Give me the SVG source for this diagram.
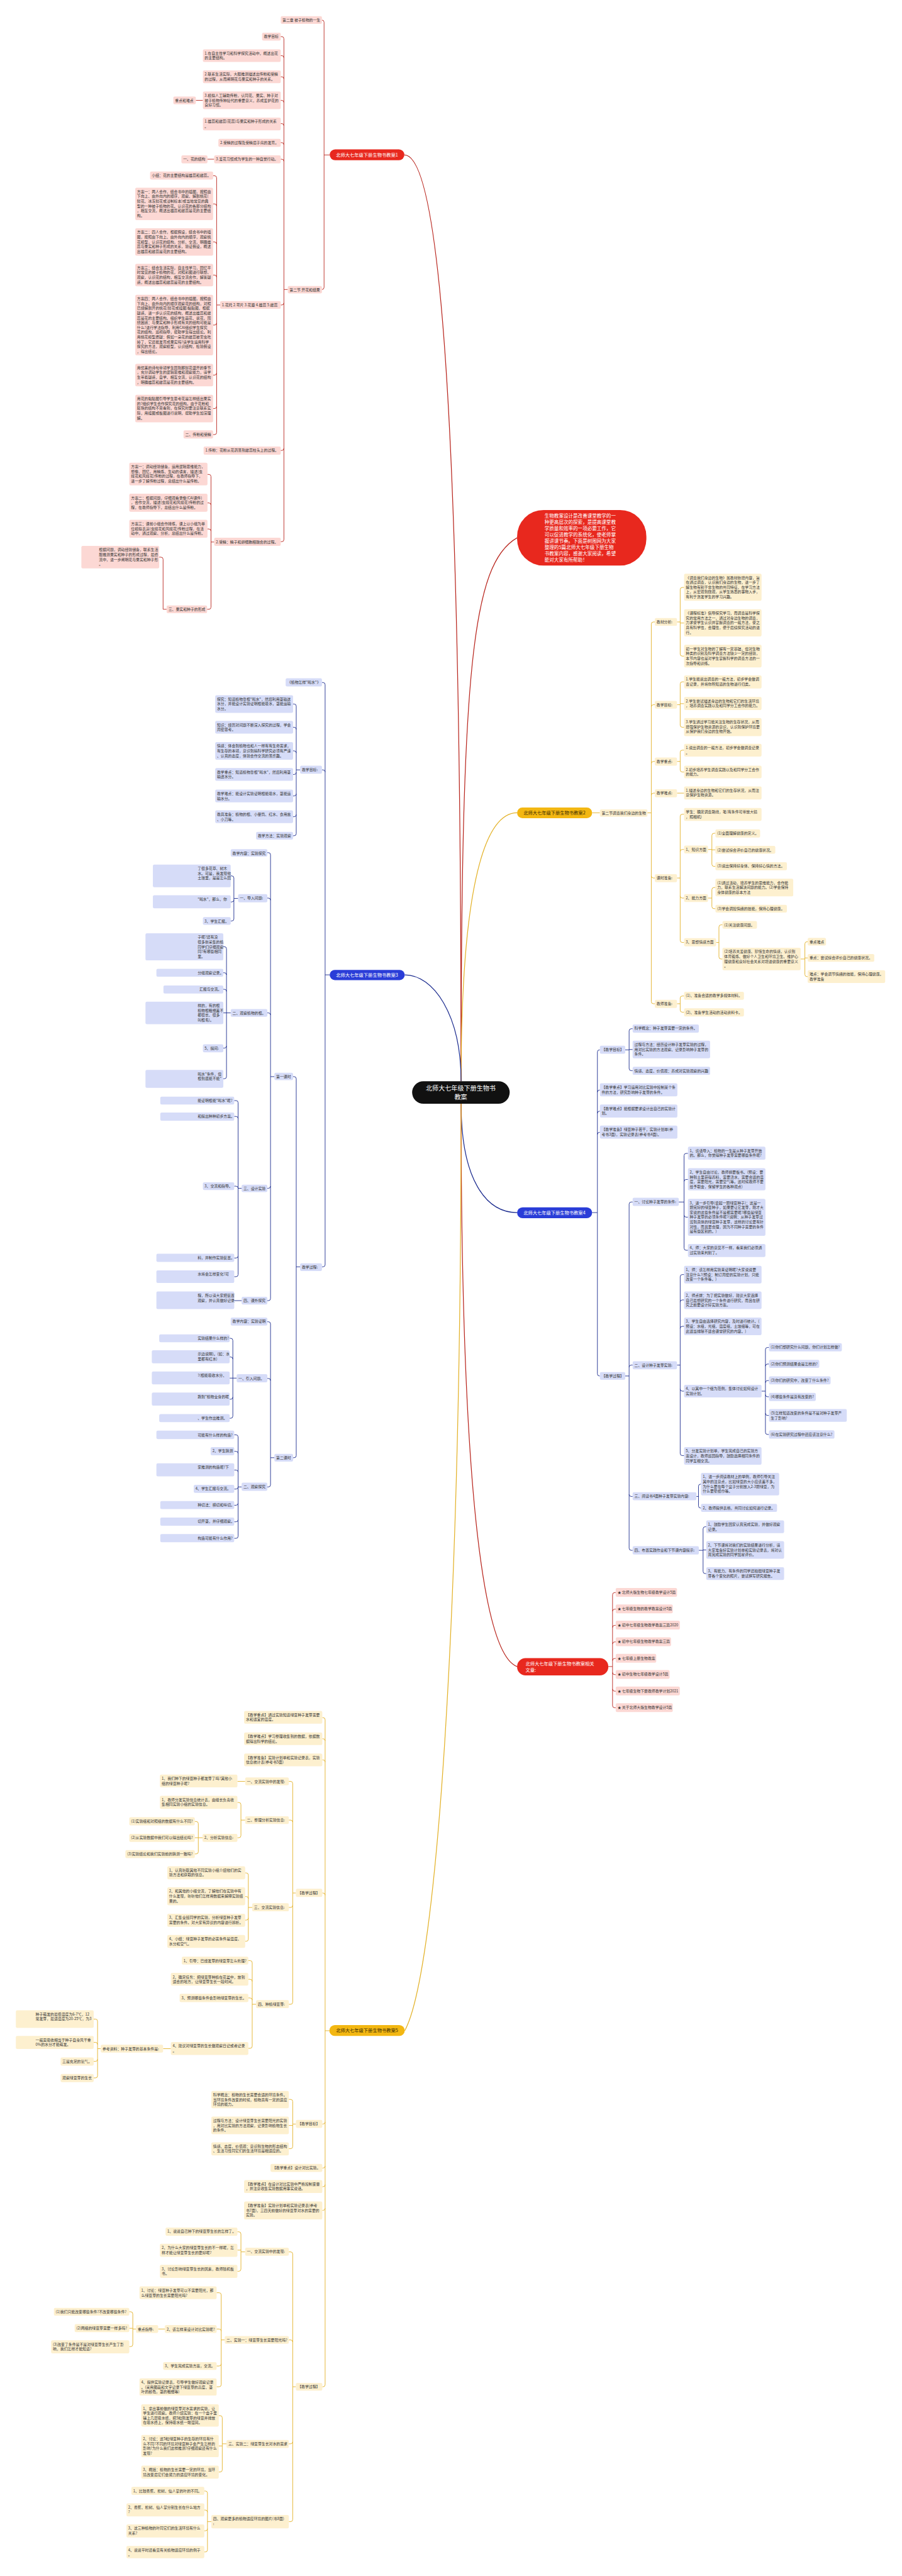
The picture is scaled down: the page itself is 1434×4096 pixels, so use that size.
<svg xmlns="http://www.w3.org/2000/svg" width="1434" height="4096" viewBox="0 0 1434 4096">
<style>
.t{font-family:"Noto Sans CJK SC","Noto Sans",sans-serif;font-size:10.5px;fill:#333}
.m{font-family:"Noto Sans CJK SC","Noto Sans",sans-serif;font-size:13px;text-anchor:middle}
.w{fill:#fff}
.rb{fill:#fcd8d4;rx:4px}
.yb{fill:#fdf0cf;rx:4px}
.bb{fill:#d6dcf8;rx:4px}
.lr{fill:none;stroke:#b8241c;stroke-width:1.6}
.ly{fill:none;stroke:#e3b126;stroke-width:1.6}
.lb{fill:none;stroke:#1a2a8e;stroke-width:1.6}
.mc{stroke-width:2.2}
</style>
<rect width="1434" height="4096" fill="#fff"/>
<g transform="scale(0.56)">
<g id="connectors">
<path class="lr mc" d="M1309 3070C1309 1200 1250 440 1148 440"/>
<path class="lr mc" d="M1309 3070C1309 1900 1340 1600 1468 1527"/>
<path class="ly mc" d="M1309 3070C1309 2500 1380 2308 1468 2308"/>
<path class="lb mc" d="M1149 2768C1230 2768 1309 2880 1309 3070"/>
<path class="lb mc" d="M1309 3134C1309 3350 1380 3443 1468 3443"/>
<path class="lr mc" d="M1309 3134C1309 4300 1380 4700 1468 4732"/>
<path class="ly mc" d="M1309 3134C1309 4600 1240 5600 1149 5766"/>
<path class="lr" d="M936 440H920M920 63V816M920 63Q920 57 914 57M920 816Q920 822 914 822"/>
<path class="lr" d="M817 822H806M806 110V1532M806 110Q806 104 800 104H797M806 164Q806 158 800 158H797M806 224Q806 218 800 218H797M806 291Q806 285 800 285H797M806 357Q806 351 800 351H797M806 411Q806 405 800 405H797M806 458Q806 452 800 452H797M806 860Q806 866 800 866H797M806 1273Q806 1279 800 1279H797M806 1532Q806 1538 800 1538H797"/>
<path class="lr" d="M576 285H556M608 452H589"/>
<path class="lr" d="M625 866H615M615 505V1228M615 505Q615 499 609 499H605M615 585Q615 579 609 579H605M615 693Q615 687 609 687H605M615 787Q615 781 609 781H605M615 917Q615 923 609 923H605M615 1059Q615 1065 609 1065H605M615 1154Q615 1160 609 1160H605M615 1228Q615 1234 609 1234H605"/>
<path class="lr" d="M608 1539H599M599 1353V1724M599 1353Q599 1347 593 1347H589M599 1434Q599 1428 593 1428H589M599 1508Q599 1502 593 1502H589M599 1724Q599 1730 593 1730H588"/>
<path class="lr" d="M473 1730H463M463 1588V1730M463 1588Q463 1582 457 1582H452"/>
<path class="ly" d="M1681 2308H1703"/>
<path class="ly" d="M1838 2308H1849M1849 1772V2844M1849 1772Q1849 1766 1855 1766H1859M1849 2007Q1849 2001 1855 2001H1859M1849 2168Q1849 2162 1855 2162H1859M1849 2258Q1849 2252 1855 2252H1859M1849 2487Q1849 2493 1855 2493H1859M1849 2844Q1849 2850 1855 2850H1859"/>
<path class="ly" d="M1922 1766H1931M1931 1674V1857M1931 1674Q1931 1668 1937 1668H1942M1931 1769H1942M1931 1857Q1931 1863 1937 1863H1942"/>
<path class="ly" d="M1922 2001H1931M1931 1942V2059M1931 1942Q1931 1936 1937 1936H1942M1931 1998H1942M1931 2059Q1931 2065 1937 2065H1942"/>
<path class="ly" d="M1922 2162H1931M1931 2136V2186M1931 2136Q1931 2130 1937 2130H1942M1931 2186Q1931 2192 1937 2192H1942"/>
<path class="ly" d="M1922 2252H1942"/>
<path class="ly" d="M1922 2493H1931M1931 2318V2670M1931 2318Q1931 2312 1937 2312H1942M1931 2418Q1931 2412 1937 2412H1942M1931 2544Q1931 2550 1937 2550H1942M1931 2670Q1931 2676 1937 2676H1942"/>
<path class="ly" d="M2010 2412H2021M2021 2372V2454M2021 2372Q2021 2366 2027 2366H2031M2021 2413H2031M2021 2454Q2021 2460 2027 2460H2031"/>
<path class="ly" d="M2010 2550H2021M2021 2526V2574M2021 2526Q2021 2520 2027 2520H2031M2021 2574Q2021 2580 2027 2580H2031"/>
<path class="ly" d="M2033 2676H2041M2041 2632V2717M2041 2632Q2041 2626 2047 2626H2051M2041 2717Q2041 2723 2047 2723H2051"/>
<path class="ly" d="M2273 2723H2285M2285 2680V2767M2285 2680Q2285 2674 2291 2674H2293M2285 2720H2293M2285 2767Q2285 2773 2291 2773H2293"/>
<path class="ly" d="M1922 2850H1931M1931 2834V2868M1931 2834Q1931 2828 1937 2828H1942M1931 2868Q1931 2874 1937 2874H1942"/>
<path class="lb" d="M936 2768H923M923 1944V3591M923 1944Q923 1938 917 1938H914M923 2192Q923 2186 917 2186H914M923 3591Q923 3597 917 3597H914"/>
<path class="lb" d="M852 2186H841M841 2005V2367M841 2005Q841 1999 835 1999H832M841 2071Q841 2065 835 2065H832M841 2138Q841 2132 835 2132H832M841 2193Q841 2199 835 2199H832M841 2254Q841 2260 835 2260H832M841 2313Q841 2319 835 2319H832M841 2367Q841 2373 835 2373H832"/>
<path class="lb" d="M852 3597H841M841 3063V4133M841 3063Q841 3057 835 3057H832M841 4133Q841 4139 835 4139H832"/>
<path class="lb" d="M779 3057H768M768 2427V3687M768 2427Q768 2421 762 2421H759M768 2556Q768 2550 762 2550H759M768 2882Q768 2876 762 2876H759M768 3368Q768 3374 762 3374H759M768 3687Q768 3693 762 3693H759"/>
<path class="lb" d="M779 4139H768M768 3759V4216M768 3759Q768 3753 762 3753H759M768 3920Q768 3914 762 3914H759M768 4216Q768 4222 762 4222H759"/>
<path class="lb" d="M676 2551H664M664 2493V2609M664 2493Q664 2487 658 2487H655M664 2555Q664 2561 658 2561H655M664 2609Q664 2615 658 2615H655"/>
<path class="lb" d="M655 2876H643M643 2694V3057M643 2694Q643 2688 637 2688H634M643 2768Q643 2762 637 2762H634M643 2815Q643 2809 637 2809H634M643 2876H634M643 2970Q643 2976 637 2976H634M643 3057Q643 3063 637 3063H634"/>
<path class="lb" d="M686 3374H676M676 3131V3619M676 3131Q676 3125 670 3125H665M676 3176Q676 3170 670 3170H665M676 3374Q676 3368 670 3368H665M676 3566Q676 3572 670 3572H665M676 3619Q676 3625 670 3625H665"/>
<path class="lb" d="M686 3693H665"/>
<path class="lb" d="M672 3913H661M661 3806V4021M661 3806Q661 3800 655 3800H652M661 3859Q661 3853 655 3853H652M661 3913H652M661 3967Q661 3973 655 3973H652M661 4021Q661 4027 655 4027H652"/>
<path class="lb" d="M686 4222H676M676 4080V4362M676 4080Q676 4074 670 4074H665M676 4127Q676 4121 670 4121H665M676 4180Q676 4174 670 4174H665M676 4222Q676 4228 670 4228H665M676 4268Q676 4274 670 4274H665M676 4315Q676 4321 670 4321H665M676 4362Q676 4368 670 4368H665"/>
<path class="lb" d="M1681 3443H1696M1696 2987V3901M1696 2987Q1696 2981 1702 2981H1703M1696 3101Q1696 3095 1702 3095H1703M1696 3161Q1696 3155 1702 3155H1703M1696 3221Q1696 3215 1702 3215H1703M1696 3901Q1696 3907 1702 3907H1703"/>
<path class="lb" d="M1775 2981H1786M1786 2927V3034M1786 2927Q1786 2921 1792 2921H1796M1786 2980H1796M1786 3034Q1786 3040 1792 3040H1796"/>
<path class="lb" d="M1775 3907H1786M1786 3419V4396M1786 3419Q1786 3413 1792 3413H1796M1786 3882Q1786 3876 1792 3876H1796M1786 4243Q1786 4249 1792 4249H1796M1786 4396Q1786 4402 1792 4402H1796"/>
<path class="lb" d="M1927 3413H1942M1942 3281V3544M1942 3281Q1942 3275 1948 3275H1953M1942 3355Q1942 3349 1948 3349H1953M1942 3450Q1942 3456 1948 3456H1953M1942 3544Q1942 3550 1948 3550H1953"/>
<path class="lb" d="M1922 3876H1931M1931 3625V4127M1931 3625Q1931 3619 1937 3619H1942M1931 3697Q1931 3691 1937 3691H1942M1931 3772Q1931 3766 1937 3766H1942M1931 3944Q1931 3950 1937 3950H1942M1931 4127Q1931 4133 1937 4133H1942"/>
<path class="lb" d="M2162 3950H2173M2173 3832V4067M2173 3832Q2173 3826 2179 3826H2183M2173 3879Q2173 3873 2179 3873H2183M2173 3926Q2173 3920 2179 3920H2183M2173 3960Q2173 3966 2179 3966H2183M2173 4013Q2173 4019 2179 4019H2183M2173 4067Q2173 4073 2179 4073H2183"/>
<path class="lb" d="M1977 4249H1983M1983 4220V4276M1983 4220Q1983 4214 1989 4214H1990M1983 4276Q1983 4282 1989 4282H1990"/>
<path class="lb" d="M1984 4402H1996M1996 4341V4462M1996 4341Q1996 4335 2002 4335H2005M1996 4401H2005M1996 4462Q1996 4468 2002 4468H2005"/>
<path class="lr" d="M1727 4732H1739M1739 4528V4843M1739 4528Q1739 4522 1745 4522H1748M1739 4575Q1739 4569 1745 4569H1748M1739 4621Q1739 4615 1745 4615H1748M1739 4668Q1739 4662 1745 4662H1748M1739 4715Q1739 4709 1745 4709H1748M1739 4749Q1739 4755 1745 4755H1748M1739 4796Q1739 4802 1745 4802H1748M1739 4843Q1739 4849 1745 4849H1748"/>
<path class="ly" d="M935 5766H923M923 4883V6771M923 4883Q923 4877 917 4877H915M923 4943Q923 4937 917 4937H915M923 5003Q923 4997 917 4997H915M923 5381Q923 5375 917 5375H915M923 6025Q923 6031 917 6031H915M923 6150Q923 6156 917 6156H915M923 6203Q923 6209 917 6209H915M923 6270Q923 6276 917 6276H915M923 6771Q923 6777 917 6777H915"/>
<path class="ly" d="M840 5375H831M831 5064V5685M831 5064Q831 5058 825 5058H820M831 5174Q831 5168 825 5168H820M831 5410Q831 5416 825 5416H820M831 5685Q831 5691 825 5691H820"/>
<path class="ly" d="M696 5058H674"/>
<path class="ly" d="M696 5168H684M684 5124V5212M684 5124Q684 5118 678 5118H674M684 5212Q684 5218 678 5218H674"/>
<path class="ly" d="M575 5218H563M563 5178V5258M563 5178Q563 5172 557 5172H553M563 5218H553M563 5258Q563 5264 557 5264H553"/>
<path class="ly" d="M716 5416H705M705 5324V5506M705 5324Q705 5318 699 5318H696M705 5391Q705 5385 699 5385H696M705 5446Q705 5452 699 5452H696M705 5506Q705 5512 699 5512H696"/>
<path class="ly" d="M727 5691H716M716 5573V5810M716 5573Q716 5567 710 5567H705M716 5626Q716 5620 710 5620H705M716 5679Q716 5673 710 5673H705M716 5810Q716 5816 710 5816H705"/>
<path class="ly" d="M485 5817H463"/>
<path class="ly" d="M286 5817H277M277 5739V5894M277 5739Q277 5733 271 5733H266M277 5805Q277 5799 271 5799H266M277 5847Q277 5853 271 5853H266M277 5894Q277 5900 271 5900H266"/>
<path class="ly" d="M840 6031H831M831 5967V6095M831 5967Q831 5961 825 5961H820M831 6035H820M831 6095Q831 6101 825 6101H820"/>
<path class="ly" d="M840 6777H831M831 6400V7154M831 6400Q831 6394 825 6394H820M831 6650Q831 6644 825 6644H820M831 6933Q831 6939 825 6939H820M831 7154Q831 7160 825 7160H820"/>
<path class="ly" d="M696 6394H684M684 6343V6443M684 6343Q684 6337 678 6337H674M684 6389H674M684 6443Q684 6449 678 6449H674"/>
<path class="ly" d="M638 6644H628M628 6516V6771M628 6516Q628 6510 622 6510H615M628 6619Q628 6613 622 6613H615M628 6712Q628 6718 622 6718H615M628 6771Q628 6777 622 6777H615"/>
<path class="ly" d="M468 6613H449"/>
<path class="ly" d="M386 6613H377M377 6570V6657M377 6570Q377 6564 371 6564H367M377 6611H367M377 6657Q377 6663 371 6663H367"/>
<path class="ly" d="M643 6939H631M631 6865V7013M631 6865Q631 6859 625 6859H621M631 6945H621M631 7013Q631 7019 625 7019H621"/>
<path class="ly" d="M600 7160H589M589 7079V7240M589 7079Q589 7073 583 7073H580M589 7133Q589 7127 583 7127H580M589 7180Q589 7186 583 7186H580M589 7240Q589 7246 583 7246H580"/>
</g>
<g id="center"><rect x="1170" y="3070" width="277" height="64" rx="32" fill="#111"/><text class="m w" style="font-size:18px" x="1308" y="3097">北师大七年级下册生物书<tspan x="1308" dy="25">教案</tspan></text></g>
<g id="cloud"><rect x="1468" y="1448" width="367" height="158" rx="75" fill="#e8281e"/><text class="t w" style="font-size:13.5px" x="1546" y="1469">生物教案设计是改善课堂教学的一<tspan x="1546" dy="17.9">种更高层次的探索，是提高课堂教</tspan><tspan x="1546" dy="17.9">学质量和效率的一项必要工作，它</tspan><tspan x="1546" dy="17.9">可以促进教学的系统化，使老师掌</tspan><tspan x="1546" dy="17.9">握讲课节奏。下面是树图网为大家</tspan><tspan x="1546" dy="17.9">整理的5篇北师大七年级下册生物</tspan><tspan x="1546" dy="17.9">书教案内容，感谢大家阅读，希望</tspan><tspan x="1546" dy="17.9">能对大家有所帮助！</tspan></text></g>
<g id="b1"><rect x="936" y="424" width="212" height="31" rx="15.5" fill="#e8281e"/><text class="m w" x="1042" y="444.5">北师大七年级下册生物书教案1</text></g>
<g id="b1-1"><rect class="rb" x="797" y="46" width="117" height="22"/><text class="t" x="802" y="61">第二章 被子植物的一生</text></g>
<g id="b1-2"><rect class="rb" x="817" y="812" width="97" height="21"/><text class="t" x="822" y="827">第二节 开花和结果</text></g>
<g id="b1-3"><rect class="rb" x="744" y="93" width="53" height="22"/><text class="t" x="749" y="108">教学目标</text></g>
<g id="b1-4"><rect class="rb" x="576" y="140" width="221" height="36"/><text class="t" x="581" y="155">1.在自主性学习和科学探究活动中，概述出花<tspan x="581" dy="13.6">的主要结构。</tspan></text></g>
<g id="b1-5"><rect class="rb" x="576" y="200" width="221" height="36"/><text class="t" x="581" y="215">2.联系生活实际，大胆推测描述出传粉和受精<tspan x="581" dy="13.6">的过程，从而阐明花与果实和种子的关系。</tspan></text></g>
<g id="b1-6"><rect class="rb" x="576" y="260" width="221" height="50"/><text class="t" x="581" y="275">3.模拟人工辅助传粉，认同花、果实、种子对<tspan x="581" dy="13.6">被子植物传种接代的重要意义，养成爱护花的</tspan><tspan x="581" dy="13.6">良好习惯。</tspan></text></g>
<g id="b1-7"><rect class="rb" x="492" y="274" width="64" height="22"/><text class="t" x="497" y="289">重点和难点</text></g>
<g id="b1-8"><rect class="rb" x="576" y="334" width="221" height="36"/><text class="t" x="581" y="349">1.雄蕊和雌蕊(花蕊)与果实和种子形成的关系<tspan x="581" dy="13.6">。</tspan></text></g>
<g id="b1-9"><rect class="rb" x="620" y="394" width="177" height="23"/><text class="t" x="625" y="409">2.受精的过程及受精后子房的发育。</text></g>
<g id="b1-10"><rect class="rb" x="608" y="441" width="189" height="23"/><text class="t" x="613" y="456">3.爱花习惯成为学生的一种自觉行动。</text></g>
<g id="b1-11"><rect class="rb" x="515" y="441" width="74" height="23"/><text class="t" x="520" y="456">一、花的结构</text></g>
<g id="b1-12"><rect class="rb" x="625" y="855" width="172" height="22"/><text class="t" x="630" y="870">1.花托 2.萼片 3.花瓣 4.雄蕊 5.雌蕊</text></g>
<g id="b1-13"><rect class="rb" x="426" y="487" width="179" height="23"/><text class="t" x="431" y="502">小结：花的主要结构是雄蕊和雌蕊。</text></g>
<g id="b1-14"><rect class="rb" x="384" y="533" width="221" height="92"/><text class="t" x="389" y="548">方案一：两人合作，结合书中的插图，按照由<tspan x="389" dy="13.6">下向上、由外向内的顺序，观察、解剖桃花(</tspan><tspan x="389" dy="13.6">鲜花、冰冻鲜花或浸制标本)或当地常见的典</tspan><tspan x="389" dy="13.6">型的一种被子植物的花。认识花的各部分结构</tspan><tspan x="389" dy="13.6">，相互交流，概述出雄蕊和雌蕊是花的主要结</tspan><tspan x="389" dy="13.6">构。</tspan></text></g>
<g id="b1-15"><rect class="rb" x="384" y="648" width="221" height="78"/><text class="t" x="389" y="663">方案二：四人合作，根据假设，结合书中的插<tspan x="389" dy="13.6">图，按照由下向上、由外向内的顺序，观察桃</tspan><tspan x="389" dy="13.6">花模型，认识花的结构，分析、交流，明确雄</tspan><tspan x="389" dy="13.6">蕊与果实和种子形成的关系，验证假设，概述</tspan><tspan x="389" dy="13.6">出雄蕊和雌蕊是花的主要结构。</tspan></text></g>
<g id="b1-16"><rect class="rb" x="384" y="749" width="221" height="64"/><text class="t" x="389" y="764">方案三：结合生活实际，自主性学习，回忆平<tspan x="389" dy="13.6">时常见的被子植物的花，对照彩图进行联想、</tspan><tspan x="389" dy="13.6">观察，认识花的结构，相互交流合作，解答疑</tspan><tspan x="389" dy="13.6">惑，概述出雄蕊和雌蕊是花的主要结构。</tspan></text></g>
<g id="b1-17"><rect class="rb" x="384" y="837" width="221" height="172"/><text class="t" x="389" y="852">方案四：两人合作，结合书中的插图，按照由<tspan x="389" dy="13.6">下向上、由外向内的顺序观察花的结构，对照</tspan><tspan x="389" dy="13.6">已经解剖开的桃花(鲜花或挂图)黏贴图，根据</tspan><tspan x="389" dy="13.6">疑惑，进一步认识花的结构，概述出雄蕊和雌</tspan><tspan x="389" dy="13.6">蕊是花的主要结构。组织学生画花、说花，围</tspan><tspan x="389" dy="13.6">绕困惑：与果实和种子形成有关的结构可能是</tspan><tspan x="389" dy="13.6">什么?进行学法指导，利用CAI组织学生探究</tspan><tspan x="389" dy="13.6">花的结构，巡视指导，帮助学生得出结论。利</tspan><tspan x="389" dy="13.6">用桃花模型质疑：假如一朵花的雌蕊被害虫吃</tspan><tspan x="389" dy="13.6">掉了，它还能发育成果实吗?请学生运用科学</tspan><tspan x="389" dy="13.6">探究的方法，观察模型，认识结构，检验假设</tspan><tspan x="389" dy="13.6">，得出结论。</tspan></text></g>
<g id="b1-18"><rect class="rb" x="384" y="1033" width="221" height="64"/><text class="t" x="389" y="1048">用优美的诗句带领学生回到那鲜花盛开的季节<tspan x="389" dy="13.6">，充分调动学生的逻辑思维和观察能力，请学</tspan><tspan x="389" dy="13.6">生带着疑惑，自学、相互交流，认识花的结构</tspan><tspan x="389" dy="13.6">，明确雄蕊和雌蕊是花的主要结构。</tspan></text></g>
<g id="b1-19"><rect class="rb" x="384" y="1121" width="221" height="78"/><text class="t" x="389" y="1136">用花的黏贴图引导学生思考花是怎样结出果实<tspan x="389" dy="13.6">的?组织学生合作探究花的结构。由于花粉和</tspan><tspan x="389" dy="13.6">胚珠的结构不易看到，在探究时要注意联系实</tspan><tspan x="389" dy="13.6">际，用挂图或板图进行说明，帮助学生加深理</tspan><tspan x="389" dy="13.6">解。</tspan></text></g>
<g id="b1-20"><rect class="rb" x="521" y="1222" width="84" height="23"/><text class="t" x="526" y="1237">二、传粉和受精</text></g>
<g id="b1-21"><rect class="rb" x="578" y="1268" width="219" height="23"/><text class="t" x="583" y="1283">1.传粉：花粉从花药落到雌蕊柱头上的过程。</text></g>
<g id="b1-22"><rect class="rb" x="608" y="1527" width="189" height="23"/><text class="t" x="613" y="1542">2.受精：精子和卵细胞相融合的过程。</text></g>
<g id="b1-23"><rect class="rb" x="367" y="1314" width="222" height="64"/><text class="t" x="372" y="1329">方案一：调动经验储备，运用逻辑思维能力，<tspan x="372" dy="13.6">想像、回忆，用精炼、生动的语言，描述(虫</tspan><tspan x="372" dy="13.6">媒花和风媒花)传粉的过程，在教师指导下，</tspan><tspan x="372" dy="13.6">进一步了解传粉过程，总结出什么是传粉。</tspan></text></g>
<g id="b1-24"><rect class="rb" x="367" y="1402" width="222" height="51"/><text class="t" x="372" y="1417">方案二：根据问题，仔细观看录像(CAI课件)<tspan x="372" dy="13.6">，合作交流，描述(虫媒花和风媒花)传粉的过</tspan><tspan x="372" dy="13.6">程，在教师指导下，总结出什么是传粉。</tspan></text></g>
<g id="b1-25"><rect class="rb" x="367" y="1476" width="222" height="51"/><text class="t" x="372" y="1491">方案三：课前小组合作排练，课上以小组为单<tspan x="372" dy="13.6">位模拟表演(虫媒花和风媒花)传粉过程，在活</tspan><tspan x="372" dy="13.6">动中，通过观察、分析，总结出什么是传粉。</tspan></text></g>
<g id="b1-26"><rect class="rb" x="473" y="1719" width="115" height="22"/><text class="t" x="478" y="1734">三、果实和种子的形成</text></g>
<g id="b1-27"><rect class="rb" x="231" y="1550" width="221" height="64"/><text class="t" x="281" y="1565">根据问题，调动经验储备，联系生活<tspan x="281" dy="13.6">胆推测果实和种子的形成过程，最终</tspan><tspan x="281" dy="13.6">流中，进一步阐明花与果实和种子形</tspan><tspan x="281" dy="13.6">。</tspan></text></g>
<g id="b2"><rect x="1468" y="2293" width="213" height="30" rx="15" fill="#f3b712"/><text class="m" style="fill:#3a2a00" x="1574" y="2313">北师大七年级下册生物书教案2</text></g>
<g id="b2-1"><rect class="yb" x="1703" y="2298" width="135" height="21"/><text class="t" x="1708" y="2313">第二节调查我们身边的生物</text></g>
<g id="b2-2"><rect class="yb" x="1859" y="1755" width="63" height="22"/><text class="t" x="1864" y="1770">教材分析:</text></g>
<g id="b2-3"><rect class="yb" x="1859" y="1990" width="63" height="22"/><text class="t" x="1864" y="2005">教学目标:</text></g>
<g id="b2-4"><rect class="yb" x="1859" y="2151" width="63" height="23"/><text class="t" x="1864" y="2166">教学重点:</text></g>
<g id="b2-5"><rect class="yb" x="1859" y="2241" width="63" height="23"/><text class="t" x="1864" y="2256">教学难点:</text></g>
<g id="b2-6"><rect class="yb" x="1859" y="2482" width="63" height="23"/><text class="t" x="1864" y="2497">课时准备:</text></g>
<g id="b2-7"><rect class="yb" x="1859" y="2839" width="63" height="23"/><text class="t" x="1864" y="2854">教师准备:</text></g>
<g id="b2-8"><rect class="yb" x="1942" y="1629" width="220" height="77"/><text class="t" x="1947" y="1644">《调查我们身边的生物》属教材新增内容，旨<tspan x="1947" dy="13.6">在通过调查，认识我们身边的生物，进一步了</tspan><tspan x="1947" dy="13.6">解生物有别于非生物的共同特征，在学习方法</tspan><tspan x="1947" dy="13.6">上，从宏观到微观，从学生熟悉的事物入手，</tspan><tspan x="1947" dy="13.6">有利于激发学生的学习兴趣。</tspan></text></g>
<g id="b2-9"><rect class="yb" x="1942" y="1730" width="220" height="77"/><text class="t" x="1947" y="1745">《课程标准》倡导探究学习，而调查是科学探<tspan x="1947" dy="13.6">究的常用方法之一，通过对身边生物的调查，</tspan><tspan x="1947" dy="13.6">力求使学生认识并掌握调查的一般方法，使之</tspan><tspan x="1947" dy="13.6">具有科学性，合理性，便于后续探究活动的进</tspan><tspan x="1947" dy="13.6">行。</tspan></text></g>
<g id="b2-10"><rect class="yb" x="1942" y="1831" width="220" height="64"/><text class="t" x="1947" y="1846">初一学生对生物的了解有一定基础，但对生物<tspan x="1947" dy="13.6">种类的识别及科学调查方法缺少一定的经验，</tspan><tspan x="1947" dy="13.6">本节内容也是对学生掌握科学的调查方法的一</tspan><tspan x="1947" dy="13.6">次指导和训练。</tspan></text></g>
<g id="b2-11"><rect class="yb" x="1942" y="1918" width="220" height="37"/><text class="t" x="1947" y="1933">1.学生能说出调查的一般方法，初步学会做调<tspan x="1947" dy="13.6">查记录，并将你所知道的生物进行归类。</tspan></text></g>
<g id="b2-12"><rect class="yb" x="1942" y="1979" width="220" height="37"/><text class="t" x="1947" y="1994">2.学生尝试描述身边的生物和它们的生活环境<tspan x="1947" dy="13.6">，培养调查实践以及和同学分工合作的能力。</tspan></text></g>
<g id="b2-13"><rect class="yb" x="1942" y="2039" width="220" height="51"/><text class="t" x="1947" y="2054">3.学生通过学习能关注生物的生存状况，从而<tspan x="1947" dy="13.6">增强保护生物资源的意识，认识到保护环境要</tspan><tspan x="1947" dy="13.6">从保护我们身边的生物开始。</tspan></text></g>
<g id="b2-14"><rect class="yb" x="1942" y="2112" width="220" height="36"/><text class="t" x="1947" y="2127">1.说出调查的一般方法，初步学会做调查记录<tspan x="1947" dy="13.6">。</tspan></text></g>
<g id="b2-15"><rect class="yb" x="1942" y="2174" width="220" height="36"/><text class="t" x="1947" y="2189">2.初步培养学生调查实践以及和同学分工合作<tspan x="1947" dy="13.6">的能力。</tspan></text></g>
<g id="b2-16"><rect class="yb" x="1942" y="2233" width="220" height="37"/><text class="t" x="1947" y="2248">1.描述身边的生物和它们的生存状况，从而注<tspan x="1947" dy="13.6">意保护生物资源。</tspan></text></g>
<g id="b2-17"><rect class="yb" x="1942" y="2294" width="220" height="37"/><text class="t" x="1947" y="2309">学生：确定调查路线，笔(有条件可带放大镜<tspan x="1947" dy="13.6">，照相机)</tspan></text></g>
<g id="b2-18"><rect class="yb" x="1942" y="2401" width="68" height="22"/><text class="t" x="1947" y="2416">1、知识方面</text></g>
<g id="b2-19"><rect class="yb" x="2031" y="2355" width="127" height="23"/><text class="t" x="2036" y="2370">(1)全面理解健康的定义。</text></g>
<g id="b2-20"><rect class="yb" x="2031" y="2402" width="170" height="22"/><text class="t" x="2036" y="2417">(2)尝试综合评价自己的健康状况。</text></g>
<g id="b2-21"><rect class="yb" x="2031" y="2448" width="203" height="23"/><text class="t" x="2036" y="2463">(3)说出保持好身体、保持好心情的方法。</text></g>
<g id="b2-22"><rect class="yb" x="1942" y="2539" width="68" height="22"/><text class="t" x="1947" y="2554">2、能力方面</text></g>
<g id="b2-23"><rect class="yb" x="2031" y="2495" width="221" height="50"/><text class="t" x="2036" y="2510">(1)通过活动，培养学生的思维能力，合作能<tspan x="2036" dy="13.6">力，联系生活解决问题的能力。(2)学会保持</tspan><tspan x="2036" dy="13.6">身体健康的基本方法</tspan></text></g>
<g id="b2-24"><rect class="yb" x="2031" y="2569" width="203" height="22"/><text class="t" x="2036" y="2584">(3)学会调控情绪的技能，保持心理健康。</text></g>
<g id="b2-25"><rect class="yb" x="1942" y="2664" width="91" height="23"/><text class="t" x="1947" y="2679">3、思想情感方面</text></g>
<g id="b2-26"><rect class="yb" x="2051" y="2615" width="98" height="22"/><text class="t" x="2056" y="2630">(1)关注健康问题。</text></g>
<g id="b2-27"><rect class="yb" x="2051" y="2691" width="222" height="64"/><text class="t" x="2056" y="2706">(2)培养关爱健康、珍惜生命的情感，认识到<tspan x="2056" dy="13.6">体育锻炼、做好个人卫生和环境卫生、维护心</tspan><tspan x="2056" dy="13.6">理健康和良好社会关系对增进健康的重要意义</tspan><tspan x="2056" dy="13.6">。</tspan></text></g>
<g id="b2-28"><rect class="yb" x="2293" y="2663" width="52" height="22"/><text class="t" x="2298" y="2678">重点难点</text></g>
<g id="b2-29"><rect class="yb" x="2293" y="2709" width="189" height="22"/><text class="t" x="2298" y="2724">重点：尝试综合评价自己的健康状况。</text></g>
<g id="b2-30"><rect class="yb" x="2293" y="2755" width="220" height="36"/><text class="t" x="2298" y="2770">难点：学会调节情绪的技能，保持心理健康。<tspan x="2298" dy="13.6">教学准备</tspan></text></g>
<g id="b2-31"><rect class="yb" x="1942" y="2816" width="170" height="23"/><text class="t" x="1947" y="2831">(1)、准备合适的教学多媒体材料。</text></g>
<g id="b2-32"><rect class="yb" x="1942" y="2863" width="170" height="23"/><text class="t" x="1947" y="2878">(2)、准备学生活动的活动资料卡。</text></g>
<g id="b3"><rect x="936" y="2754" width="213" height="29" rx="14.5" fill="#2a3dd8"/><text class="m w" x="1042" y="2773">北师大七年级下册生物书教案3</text></g>
<g id="b3-1"><rect class="bb" x="811" y="1926" width="103" height="23"/><text class="t" x="816" y="1941">《植物怎样"喝水"》</text></g>
<g id="b3-2"><rect class="bb" x="852" y="2174" width="62" height="23"/><text class="t" x="857" y="2189">教学目标:</text></g>
<g id="b3-3"><rect class="bb" x="852" y="3587" width="62" height="22"/><text class="t" x="857" y="3602">教学过程:</text></g>
<g id="b3-4"><rect class="bb" x="611" y="1974" width="221" height="50"/><text class="t" x="616" y="1989">探究：知道植物靠根"喝水"，然后利用茎输送<tspan x="616" dy="13.6">水分，并能设计实验证明根能吸水，茎能运输</tspan><tspan x="616" dy="13.6">水分。</tspan></text></g>
<g id="b3-5"><rect class="bb" x="611" y="2047" width="221" height="36"/><text class="t" x="616" y="2062">知识：经历对问题不断深入探究的过程，学会<tspan x="616" dy="13.6">周密思考。</tspan></text></g>
<g id="b3-6"><rect class="bb" x="611" y="2107" width="221" height="50"/><text class="t" x="616" y="2122">情感：体会到植物也和人一样有有生命需求，<tspan x="616" dy="13.6">有生存的本领，意识到搞科学研究必须有严谨</tspan><tspan x="616" dy="13.6">、认真的态度，体验合作交流的落乐趣。</tspan></text></g>
<g id="b3-7"><rect class="bb" x="611" y="2181" width="221" height="36"/><text class="t" x="616" y="2196">教学重点：知道植物靠根"喝水"，然后利用茎<tspan x="616" dy="13.6">输送水分。</tspan></text></g>
<g id="b3-8"><rect class="bb" x="611" y="2242" width="221" height="36"/><text class="t" x="616" y="2257">教学难点：能设计实验证明根能吸水，茎能运<tspan x="616" dy="13.6">输水分。</tspan></text></g>
<g id="b3-9"><rect class="bb" x="611" y="2301" width="221" height="36"/><text class="t" x="616" y="2316">教具准备：植物的根、小量筒、红水、食用盐<tspan x="616" dy="13.6">、小刀等。</tspan></text></g>
<g id="b3-10"><rect class="bb" x="727" y="2362" width="105" height="22"/><text class="t" x="732" y="2377">教学方法：实验观察</text></g>
<g id="b3-11"><rect class="bb" x="779" y="3046" width="53" height="21"/><text class="t" x="784" y="3061">第一课时</text></g>
<g id="b3-12"><rect class="bb" x="779" y="4128" width="53" height="22"/><text class="t" x="784" y="4143">第二课时</text></g>
<g id="b3-13"><rect class="bb" x="655" y="2411" width="104" height="21"/><text class="t" x="660" y="2426">教学内容：实验探究</text></g>
<g id="b3-14"><rect class="bb" x="676" y="2539" width="83" height="23"/><text class="t" x="681" y="2554">一、导入问题:</text></g>
<g id="b3-15"><rect class="bb" x="655" y="2865" width="104" height="22"/><text class="t" x="660" y="2880">二、观察植物的根。</text></g>
<g id="b3-16"><rect class="bb" x="686" y="3364" width="73" height="21"/><text class="t" x="691" y="3379">三、设计实验</text></g>
<g id="b3-17"><rect class="bb" x="686" y="3682" width="73" height="22"/><text class="t" x="691" y="3697">四、课外探究</text></g>
<g id="b3-18"><rect class="bb" x="655" y="3741" width="104" height="23"/><text class="t" x="660" y="3756">教学内容：实验证明</text></g>
<g id="b3-19"><rect class="bb" x="672" y="3902" width="87" height="23"/><text class="t" x="677" y="3917">一、引入问题。</text></g>
<g id="b3-20"><rect class="bb" x="686" y="4210" width="73" height="23"/><text class="t" x="691" y="4225">二、观察探究</text></g>
<g id="b3-21"><rect class="bb" x="434" y="2455" width="221" height="64"/><text class="t" x="561" y="2470">了很多花草、树木<tspan x="561" dy="13.6">水。可是，我发现他</tspan><tspan x="561" dy="13.6">土壤里，是是怎么回</tspan></text></g>
<g id="b3-22"><rect class="bb" x="434" y="2542" width="221" height="37"/><text class="t" x="561" y="2557">"喝水"，那么，你</text></g>
<g id="b3-23"><rect class="bb" x="576" y="2604" width="79" height="22"/><text class="t" x="581" y="2619">3、学生汇报。</text></g>
<g id="b3-24"><rect class="bb" x="413" y="2650" width="221" height="77"/><text class="t" x="561" y="2665">子呢?还有没<tspan x="561" dy="13.6">很多新采集的植</tspan><tspan x="561" dy="13.6">同学们仔细观察</tspan><tspan x="561" dy="13.6">同?有哪些相同</tspan><tspan x="561" dy="13.6">里。</tspan></text></g>
<g id="b3-25"><rect class="bb" x="444" y="2751" width="190" height="22"/><text class="t" x="561" y="2766">分组观察记录。</text></g>
<g id="b3-26"><rect class="bb" x="464" y="2798" width="170" height="23"/><text class="t" x="566" y="2813">汇报与交流。</text></g>
<g id="b3-27"><rect class="bb" x="413" y="2844" width="221" height="64"/><text class="t" x="561" y="2859">样的，有的根<tspan x="561" dy="13.6">植物根粗细差不</tspan><tspan x="561" dy="13.6">都很长、很多</tspan><tspan x="561" dy="13.6">叫根毛)。</tspan></text></g>
<g id="b3-28"><rect class="bb" x="576" y="2965" width="58" height="23"/><text class="t" x="581" y="2980">5、提问:</text></g>
<g id="b3-29"><rect class="bb" x="413" y="3038" width="221" height="51"/><text class="t" x="561" y="3053">喝水"条件，但<tspan x="561" dy="13.6">根到底能不能"</tspan></text></g>
<g id="b3-30"><rect class="bb" x="455" y="3114" width="210" height="22"/><text class="t" x="561" y="3129">能证明根能"喝水"呢?</text></g>
<g id="b3-31"><rect class="bb" x="455" y="3159" width="210" height="23"/><text class="t" x="561" y="3174">和提出种种初步方案。</text></g>
<g id="b3-32"><rect class="bb" x="576" y="3357" width="89" height="22"/><text class="t" x="581" y="3372">3、交流和指导。</text></g>
<g id="b3-33"><rect class="bb" x="444" y="3560" width="221" height="23"/><text class="t" x="561" y="3575">料，并制作实验装置。</text></g>
<g id="b3-34"><rect class="bb" x="444" y="3607" width="221" height="36"/><text class="t" x="561" y="3622">水将会怎样变化?可</text></g>
<g id="b3-35"><rect class="bb" x="444" y="3667" width="221" height="50"/><text class="t" x="561" y="3682">程，所以请大家把装置<tspan x="561" dy="13.6">观察，并认真做好记录</tspan></text></g>
<g id="b3-36"><rect class="bb" x="452" y="3789" width="200" height="22"/><text class="t" x="561" y="3804">实验结果什么样的?</text></g>
<g id="b3-37"><rect class="bb" x="431" y="3834" width="221" height="37"/><text class="t" x="561" y="3849">示边说明)。(如：水<tspan x="561" dy="13.6">里都有红水)</tspan></text></g>
<g id="b3-38"><rect class="bb" x="431" y="3894" width="221" height="37"/><text class="t" x="561" y="3909">?(根能吸收水分、</text></g>
<g id="b3-39"><rect class="bb" x="431" y="3954" width="221" height="37"/><text class="t" x="561" y="3969">跑到"植物全身的呢</text></g>
<g id="b3-40"><rect class="bb" x="452" y="4015" width="200" height="23"/><text class="t" x="561" y="4030">、学生作出推测。</text></g>
<g id="b3-41"><rect class="bb" x="444" y="4062" width="221" height="24"/><text class="t" x="561" y="4078">可能有什么样的构造?</text></g>
<g id="b3-42"><rect class="bb" x="598" y="4109" width="67" height="23"/><text class="t" x="603" y="4124">2、学生猜测</text></g>
<g id="b3-43"><rect class="bb" x="444" y="4155" width="221" height="37"/><text class="t" x="561" y="4170">家推测的构造呢?下</text></g>
<g id="b3-44"><rect class="bb" x="550" y="4216" width="115" height="23"/><text class="t" x="555" y="4231">4、学生汇报与交流。</text></g>
<g id="b3-45"><rect class="bb" x="455" y="4262" width="210" height="23"/><text class="t" x="561" y="4277">种切法：横切和纵切。</text></g>
<g id="b3-46"><rect class="bb" x="455" y="4309" width="210" height="23"/><text class="t" x="561" y="4324">切开茎，并仔细观察。</text></g>
<g id="b3-47"><rect class="bb" x="455" y="4356" width="210" height="23"/><text class="t" x="561" y="4371">构造可能有什么作用?</text></g>
<g id="b4"><rect x="1468" y="3428" width="213" height="31" rx="15.5" fill="#2a3dd8"/><text class="m w" x="1574" y="3448">北师大七年级下册生物书教案4</text></g>
<g id="b4-1"><rect class="bb" x="1703" y="2969" width="72" height="23"/><text class="t" x="1708" y="2984">【教学目标】</text></g>
<g id="b4-2"><rect class="bb" x="1796" y="2909" width="188" height="23"/><text class="t" x="1801" y="2924">科学概念：种子发芽需要一定的条件。</text></g>
<g id="b4-3"><rect class="bb" x="1796" y="2955" width="220" height="50"/><text class="t" x="1801" y="2970">过程与方法：经历设计种子发芽实验的过程，<tspan x="1801" dy="13.6">用对比实验的方法观察、记录影响种子发芽的</tspan><tspan x="1801" dy="13.6">条件。</tspan></text></g>
<g id="b4-4"><rect class="bb" x="1796" y="3029" width="220" height="23"/><text class="t" x="1801" y="3044">情感、态度、价值观：养成对实验观察的兴趣</text></g>
<g id="b4-5"><rect class="bb" x="1703" y="3076" width="220" height="37"/><text class="t" x="1708" y="3091">【教学重点】学习运用对比实验中控制某个条<tspan x="1708" dy="13.6">件的方法，研究影响种子发芽的条件。</tspan></text></g>
<g id="b4-6"><rect class="bb" x="1703" y="3136" width="220" height="37"/><text class="t" x="1708" y="3151">【教学难点】能根据要求设计出自己的实验计<tspan x="1708" dy="13.6">划。</tspan></text></g>
<g id="b4-7"><rect class="bb" x="1703" y="3196" width="220" height="37"/><text class="t" x="1708" y="3211">【教学准备】绿豆种子若干，实验计划单(参<tspan x="1708" dy="13.6">考书3面)，实验记录表(参考书4面)。</tspan></text></g>
<g id="b4-8"><rect class="bb" x="1703" y="3896" width="72" height="22"/><text class="t" x="1708" y="3911">【教学过程】</text></g>
<g id="b4-9"><rect class="bb" x="1796" y="3401" width="131" height="23"/><text class="t" x="1801" y="3416">一、讨论种子发芽的条件:</text></g>
<g id="b4-10"><rect class="bb" x="1953" y="3256" width="220" height="37"/><text class="t" x="1958" y="3271">1、谈话导入：植物的一生是从种子发芽开始<tspan x="1958" dy="13.6">的。那么，你觉得种子发芽需要哪些条件呢?</tspan></text></g>
<g id="b4-11"><rect class="bb" x="1953" y="3317" width="220" height="63"/><text class="t" x="1958" y="3332">2、学生自由讨论，教师摘要板书。(预设：要<tspan x="1958" dy="13.6">种到土里获得养料，需要浇水，需要合适的温</tspan><tspan x="1958" dy="13.6">度，需要阳光，需要空气等。这时候教师不要</tspan><tspan x="1958" dy="13.6">给予取舍，保留学生的各种观点)</tspan></text></g>
<g id="b4-12"><rect class="bb" x="1953" y="3404" width="220" height="105"/><text class="t" x="1958" y="3419">3、进一步引导(拿起一颗绿豆种子)：这是一<tspan x="1958" dy="13.6">颗完好的绿豆种子，如果要让它发芽，刚才大</tspan><tspan x="1958" dy="13.6">家说的这些条件是不是都需要呢?哪些是绿豆</tspan><tspan x="1958" dy="13.6">种子发芽的必须条件呢?(说明：从种子发芽过</tspan><tspan x="1958" dy="13.6">渡到具体的绿豆种子发芽，这样的讨论更有针</tspan><tspan x="1958" dy="13.6">对性，而且更合理，因为不同种子需要的条件</tspan><tspan x="1958" dy="13.6">是有些区别的。)</tspan></text></g>
<g id="b4-13"><rect class="bb" x="1953" y="3532" width="220" height="37"/><text class="t" x="1958" y="3547">4、师：大家的意见不一样，看来我们必须通<tspan x="1958" dy="13.6">过实验来判别了。</tspan></text></g>
<g id="b4-14"><rect class="bb" x="1796" y="3865" width="126" height="23"/><text class="t" x="1801" y="3880">二、设计种子发芽实验:</text></g>
<g id="b4-15"><rect class="bb" x="1942" y="3594" width="220" height="50"/><text class="t" x="1947" y="3609">1、师：该怎样用实验来证明呢?大家说说要<tspan x="1947" dy="13.6">注意什么?(预设：制订周密的实验计划，只能</tspan><tspan x="1947" dy="13.6">改变一个条件等。)</tspan></text></g>
<g id="b4-16"><rect class="bb" x="1942" y="3667" width="220" height="50"/><text class="t" x="1947" y="3682">2、师点拨：为了把实验做好，建议大家选择<tspan x="1947" dy="13.6">自己最想研究的一个条件进行研究，而且在研</tspan><tspan x="1947" dy="13.6">究之前要设计好实验方案。</tspan></text></g>
<g id="b4-17"><rect class="bb" x="1942" y="3741" width="220" height="50"/><text class="t" x="1947" y="3756">3、学生自由选择研究内容，及时进行统计。(<tspan x="1947" dy="13.6">预设：水组，光组，温度组，土壤组等，可在</tspan><tspan x="1947" dy="13.6">此适当排除不适合课堂研究的内容。)</tspan></text></g>
<g id="b4-18"><rect class="bb" x="1942" y="3932" width="220" height="36"/><text class="t" x="1947" y="3947">4、以其中一个组为范例，集体讨论如何设计<tspan x="1947" dy="13.6">实验计划。</tspan></text></g>
<g id="b4-19"><rect class="bb" x="2183" y="3814" width="207" height="23"/><text class="t" x="2188" y="3829">(1)你们想研究什么问题，你们计划怎样做?</text></g>
<g id="b4-20"><rect class="bb" x="2183" y="3861" width="143" height="23"/><text class="t" x="2188" y="3876">(2)你们预测结果会是怎样的?</text></g>
<g id="b4-21"><rect class="bb" x="2183" y="3908" width="175" height="23"/><text class="t" x="2188" y="3923">(3)你们的研究中，改变了什么条件?</text></g>
<g id="b4-22"><rect class="bb" x="2183" y="3955" width="133" height="23"/><text class="t" x="2188" y="3970">(4)哪些条件是没有改变的?</text></g>
<g id="b4-23"><rect class="bb" x="2183" y="4001" width="221" height="36"/><text class="t" x="2188" y="4016">(5)怎样知道改变的条件是不是对种子发芽产<tspan x="2188" dy="13.6">生了影响?</tspan></text></g>
<g id="b4-24"><rect class="bb" x="2183" y="4061" width="186" height="24"/><text class="t" x="2188" y="4077">(6)在实验研究过程中还应该注意什么?</text></g>
<g id="b4-25"><rect class="bb" x="1942" y="4109" width="220" height="50"/><text class="t" x="1947" y="4124">5、分发实验计划单，学生完成自己的实验方<tspan x="1947" dy="13.6">案设计，教师巡回指导，鼓励选择相同条件的</tspan><tspan x="1947" dy="13.6">同学互相交流。</tspan></text></g>
<g id="b4-26"><rect class="bb" x="1796" y="4237" width="181" height="23"/><text class="t" x="1801" y="4252">三、阅读书4面种子发芽实验内容:</text></g>
<g id="b4-27"><rect class="bb" x="1990" y="4182" width="222" height="64"/><text class="t" x="1995" y="4197">1、进一步阅读教材上的举例，教师引导关注<tspan x="1995" dy="13.6">其中的注意点，比如绿豆的大小应该差不多，</tspan><tspan x="1995" dy="13.6">为什么要在每个盒子分别放入2-3颗绿豆，为</tspan><tspan x="1995" dy="13.6">什么要垫纸巾等。</tspan></text></g>
<g id="b4-28"><rect class="bb" x="1990" y="4270" width="216" height="23"/><text class="t" x="1995" y="4285">2、教师提供表格，共同讨论如何进行记录。</text></g>
<g id="b4-29"><rect class="bb" x="1796" y="4390" width="188" height="24"/><text class="t" x="1801" y="4406">四、布置实践作业和下节课内容提示:</text></g>
<g id="b4-30"><rect class="bb" x="2005" y="4317" width="221" height="36"/><text class="t" x="2010" y="4332">1、鼓励学生回家认真完成实验，并做好观察<tspan x="2010" dy="13.6">记录。</tspan></text></g>
<g id="b4-31"><rect class="bb" x="2005" y="4376" width="221" height="50"/><text class="t" x="2010" y="4391">2、下节课将对我们的实验结果进行分析，请<tspan x="2010" dy="13.6">大家准备好实验计划单和实验记录表，将对认</tspan><tspan x="2010" dy="13.6">真完成实验的同学加星评价。</tspan></text></g>
<g id="b4-32"><rect class="bb" x="2005" y="4450" width="221" height="36"/><text class="t" x="2010" y="4465">3、有能力、有条件的同学还拍摄绿豆种子发<tspan x="2010" dy="13.6">芽各个变化的照片，尝试撰写研究报告。</tspan></text></g>
<g id="rel"><rect x="1468" y="4708" width="259" height="49" rx="24" fill="#e8281e"/><text class="t w" style="font-size:13px" x="1492" y="4728">北师大七年级下册生物书教案相关<tspan x="1492" dy="19">文章:</tspan></text></g>
<g id="rel-1"><rect class="rb" x="1748" y="4509" width="174" height="25"/><text class="t" x="1753" y="4525">★ 北师大版生物七年级教学设计5篇</text></g>
<g id="rel-2"><rect class="rb" x="1748" y="4556" width="162" height="25"/><text class="t" x="1753" y="4572">★ 七年级生物的教学教案设计5篇</text></g>
<g id="rel-3"><rect class="rb" x="1748" y="4602" width="182" height="25"/><text class="t" x="1753" y="4618">★ 初中七年级生物教学教案三篇2020</text></g>
<g id="rel-4"><rect class="rb" x="1748" y="4649" width="157" height="25"/><text class="t" x="1753" y="4665">★ 初中七年级生物教学教案三篇</text></g>
<g id="rel-5"><rect class="rb" x="1748" y="4696" width="115" height="25"/><text class="t" x="1753" y="4712">★ 七年级上册生物教案</text></g>
<g id="rel-6"><rect class="rb" x="1748" y="4742" width="153" height="25"/><text class="t" x="1753" y="4758">★ 初中生物七年级教学设计5篇</text></g>
<g id="rel-7"><rect class="rb" x="1748" y="4789" width="182" height="25"/><text class="t" x="1753" y="4805">★ 七年级生物下册教师教学计划2021</text></g>
<g id="rel-8"><rect class="rb" x="1748" y="4836" width="162" height="25"/><text class="t" x="1753" y="4852">★ 关于北师大版生物教学设计5篇</text></g>
<g id="b5"><rect x="935" y="5750" width="214" height="31" rx="15.5" fill="#f3b712"/><text class="m" style="fill:#3a2a00" x="1042" y="5770">北师大七年级下册生物书教案5</text></g>
<g id="b5-1"><rect class="yb" x="693" y="4858" width="222" height="36"/><text class="t" x="698" y="4873">【教学重点】通过实验知道绿豆种子发芽需要<tspan x="698" dy="13.6">水和适宜的温度。</tspan></text></g>
<g id="b5-2"><rect class="yb" x="693" y="4919" width="222" height="36"/><text class="t" x="698" y="4934">【教学难点】学习整理收集到的数据，依据数<tspan x="698" dy="13.6">据得出科学的结论。</tspan></text></g>
<g id="b5-3"><rect class="yb" x="693" y="4979" width="222" height="36"/><text class="t" x="698" y="4994">【教学准备】实验计划单和实验记录表，实验<tspan x="698" dy="13.6">信息统计表(参考书5面)</tspan></text></g>
<g id="b5-4"><rect class="yb" x="840" y="5363" width="75" height="23"/><text class="t" x="845" y="5378">【教学过程】</text></g>
<g id="b5-5"><rect class="yb" x="696" y="5047" width="124" height="22"/><text class="t" x="701" y="5062">一、交流实验中的发现:</text></g>
<g id="b5-6"><rect class="yb" x="454" y="5039" width="220" height="36"/><text class="t" x="459" y="5054">1、我们种下的绿豆种子都发芽了吗?其他小<tspan x="459" dy="13.6">组的绿豆种子呢?</tspan></text></g>
<g id="b5-7"><rect class="yb" x="696" y="5157" width="124" height="22"/><text class="t" x="701" y="5172">二、整理分析实验信息:</text></g>
<g id="b5-8"><rect class="yb" x="454" y="5099" width="220" height="37"/><text class="t" x="459" y="5114">1、教师分发实验信息统计表，由组长负责收<tspan x="459" dy="13.6">集相同实验小组的实验信息。</tspan></text></g>
<g id="b5-9"><rect class="yb" x="575" y="5207" width="99" height="23"/><text class="t" x="580" y="5222">2、分析实验信息:</text></g>
<g id="b5-10"><rect class="yb" x="367" y="5160" width="186" height="23"/><text class="t" x="372" y="5175">(1)实验组和对照组的数据有什么不同?</text></g>
<g id="b5-11"><rect class="yb" x="367" y="5207" width="186" height="23"/><text class="t" x="372" y="5222">(2)从实验数据中我们可以得出结论吗?</text></g>
<g id="b5-12"><rect class="yb" x="356" y="5253" width="197" height="23"/><text class="t" x="361" y="5268">(3)实验结论和我们实验前的猜测一致吗?</text></g>
<g id="b5-13"><rect class="yb" x="716" y="5404" width="104" height="23"/><text class="t" x="721" y="5419">三、交流实验信息:</text></g>
<g id="b5-14"><rect class="yb" x="475" y="5299" width="221" height="37"/><text class="t" x="480" y="5314">1、认真听取其他不同实验小组介绍他们的实<tspan x="480" dy="13.6">验方法和获取的信息。</tspan></text></g>
<g id="b5-15"><rect class="yb" x="475" y="5359" width="221" height="51"/><text class="t" x="480" y="5374">2、和其他的小组交流，了解他们在实验中有<tspan x="480" dy="13.6">什么发现，听听他们怎样用数据来解释实验结</tspan><tspan x="480" dy="13.6">果的。</tspan></text></g>
<g id="b5-16"><rect class="yb" x="475" y="5434" width="221" height="37"/><text class="t" x="480" y="5449">3、汇集全班同学的实验，分析绿豆种子发芽<tspan x="480" dy="13.6">需要的条件。对大家有异议的内容进行辨析。</tspan></text></g>
<g id="b5-17"><rect class="yb" x="475" y="5494" width="221" height="37"/><text class="t" x="480" y="5509">4、小结：绿豆种子发芽的必需条件是温度、<tspan x="480" dy="13.6">水分和空气。</tspan></text></g>
<g id="b5-18"><rect class="yb" x="727" y="5679" width="93" height="23"/><text class="t" x="732" y="5694">四、种植绿豆芽:</text></g>
<g id="b5-19"><rect class="yb" x="516" y="5556" width="189" height="22"/><text class="t" x="521" y="5571">1、引导：已经发芽的绿豆芽怎么处理?</text></g>
<g id="b5-20"><rect class="yb" x="485" y="5602" width="220" height="36"/><text class="t" x="490" y="5617">2、确定任务：把绿豆芽种植在花盆中，放到<tspan x="490" dy="13.6">适合的地方，让绿豆芽生长一段时间。</tspan></text></g>
<g id="b5-21"><rect class="yb" x="510" y="5661" width="195" height="24"/><text class="t" x="515" y="5677">3、预测哪些条件会影响绿豆芽的生长。</text></g>
<g id="b5-22"><rect class="yb" x="485" y="5798" width="220" height="37"/><text class="t" x="490" y="5813">4、建议对绿豆芽的生长做观察日记或者记录<tspan x="490" dy="13.6">。</tspan></text></g>
<g id="b5-23"><rect class="yb" x="286" y="5806" width="177" height="22"/><text class="t" x="291" y="5821">参考资料：种子发芽的基本条件是:</text></g>
<g id="b5-24"><rect class="yb" x="172" y="5842" width="94" height="23"/><text class="t" x="177" y="5857">三是充足的氧气。</text></g>
<g id="b5-25"><rect class="yb" x="172" y="5889" width="94" height="23"/><text class="t" x="177" y="5904">观察绿豆芽的生长</text></g>
<g id="b5-56"><rect class="yb" x="45" y="5708" width="221" height="50"/><text class="t" x="101" y="5723">种子萌发的最低温度为6-7℃，12<tspan x="101" dy="13.6">常发芽，最适温度为20-25℃，为3</tspan></text></g>
<g id="b5-57"><rect class="yb" x="45" y="5781" width="221" height="37"/><text class="t" x="101" y="5796">一般需吸收相当于种子自身风干重<tspan x="101" dy="13.6">0%的水分才能萌发。</tspan></text></g>
<g id="b5-26"><rect class="yb" x="840" y="6019" width="75" height="23"/><text class="t" x="845" y="6034">【教学目标】</text></g>
<g id="b5-27"><rect class="yb" x="600" y="5937" width="220" height="49"/><text class="t" x="605" y="5952">科学概念：植物的生长需要合适的环境条件。<tspan x="605" dy="13.6">当环境条件改变的时候，植物具有一定的适应</tspan><tspan x="605" dy="13.6">环境的能力。</tspan></text></g>
<g id="b5-28"><rect class="yb" x="600" y="6010" width="220" height="50"/><text class="t" x="605" y="6025">过程与方法：设计绿豆芽生长需要阳光的实验<tspan x="605" dy="13.6">，用对比实验的方法观察，记录影响植物生长</tspan><tspan x="605" dy="13.6">的条件。</tspan></text></g>
<g id="b5-29"><rect class="yb" x="600" y="6083" width="220" height="37"/><text class="t" x="605" y="6098">情感、态度、价值观：意识到生物的形态结构<tspan x="605" dy="13.6">、生活习性同它们的生活环境是相适应的。</tspan></text></g>
<g id="b5-30"><rect class="yb" x="768" y="6144" width="147" height="23"/><text class="t" x="773" y="6159">【教学重点】设计对比实验。</text></g>
<g id="b5-31"><rect class="yb" x="693" y="6190" width="222" height="37"/><text class="t" x="698" y="6205">【教学难点】在设计对比实验中严格控制变量<tspan x="698" dy="13.6">，并注意收集实验数据用事实说话。</tspan></text></g>
<g id="b5-32"><rect class="yb" x="693" y="6251" width="222" height="51"/><text class="t" x="698" y="6266">【教学准备】实验计划单和实验记录表(参考<tspan x="698" dy="13.6">书7面)，三四天前做好的绿豆芽对水的需要的</tspan><tspan x="698" dy="13.6">实验。</tspan></text></g>
<g id="b5-33"><rect class="yb" x="840" y="6766" width="75" height="22"/><text class="t" x="845" y="6781">【教学过程】</text></g>
<g id="b5-34"><rect class="yb" x="696" y="6382" width="124" height="23"/><text class="t" x="701" y="6397">一、交流实验中的发现:</text></g>
<g id="b5-35"><rect class="yb" x="470" y="6325" width="204" height="23"/><text class="t" x="475" y="6340">1、说说自己种下的绿豆芽生长的怎样了。</text></g>
<g id="b5-36"><rect class="yb" x="454" y="6371" width="220" height="37"/><text class="t" x="459" y="6386">2、为什么大家的绿豆芽生长的不一样呢，怎<tspan x="459" dy="13.6">样才能让绿豆芽生长的更好呢?</tspan></text></g>
<g id="b5-37"><rect class="yb" x="454" y="6431" width="220" height="37"/><text class="t" x="459" y="6446">3、讨论影响绿豆芽生长的因素，教师随机板<tspan x="459" dy="13.6">书。</tspan></text></g>
<g id="b5-38"><rect class="yb" x="638" y="6633" width="182" height="22"/><text class="t" x="643" y="6648">二、实验一：绿豆芽生长需要阳光吗?</text></g>
<g id="b5-39"><rect class="yb" x="396" y="6492" width="219" height="36"/><text class="t" x="401" y="6507">1、讨论：绿豆种子发芽可以不需要阳光，那<tspan x="401" dy="13.6">么绿豆芽的生长需要阳光吗?</tspan></text></g>
<g id="b5-40"><rect class="yb" x="468" y="6602" width="147" height="22"/><text class="t" x="473" y="6617">2、该怎样来设计对比实验呢?</text></g>
<g id="b5-41"><rect class="yb" x="386" y="6602" width="63" height="22"/><text class="t" x="391" y="6617">重点指导:</text></g>
<g id="b5-42"><rect class="yb" x="153" y="6553" width="214" height="22"/><text class="t" x="158" y="6568">(1)我们只能改变哪些条件?不改变哪些条件?</text></g>
<g id="b5-43"><rect class="yb" x="212" y="6599" width="155" height="23"/><text class="t" x="217" y="6614">(2)两组的绿豆芽需要一样多吗?</text></g>
<g id="b5-44"><rect class="yb" x="145" y="6645" width="222" height="37"/><text class="t" x="150" y="6660">(3)改变了条件是不是对绿豆芽生长产生了影<tspan x="150" dy="13.6">响，我们怎样才能知道?</tspan></text></g>
<g id="b5-45"><rect class="yb" x="463" y="6707" width="152" height="22"/><text class="t" x="468" y="6722">3、学生完成实验方案，交流。</text></g>
<g id="b5-46"><rect class="yb" x="396" y="6753" width="219" height="49"/><text class="t" x="401" y="6768">4、提供实验记录表，引导学生做好观察记录<tspan x="401" dy="13.6">。(采用图画和文字记录下绿豆芽的高度、茎</tspan><tspan x="401" dy="13.6">叶的颜色，茎的粗细等)</tspan></text></g>
<g id="b5-47"><rect class="yb" x="643" y="6928" width="177" height="23"/><text class="t" x="648" y="6943">三、实验二：绿豆芽生长对水的需求</text></g>
<g id="b5-48"><rect class="yb" x="401" y="6827" width="220" height="63"/><text class="t" x="406" y="6842">1、拿出事前做的绿豆芽对水需求的实验，让<tspan x="406" dy="13.6">学生进行观察。教师介绍实验：在一个盘子里</tspan><tspan x="406" dy="13.6">铺上几层吸水纸，把5粒刚发芽的绿豆并排放</tspan><tspan x="406" dy="13.6">在吸水终上，保持吸水纸一端湿润。</tspan></text></g>
<g id="b5-49"><rect class="yb" x="401" y="6914" width="220" height="63"/><text class="t" x="406" y="6929">2、讨论：这5粒绿豆种子的生存的环境有什<tspan x="406" dy="13.6">么不同?不同的环境对绿豆种子会产生怎样的</tspan><tspan x="406" dy="13.6">影响?为什么我们这样推测?仔细观察还有什么</tspan><tspan x="406" dy="13.6">发现?</tspan></text></g>
<g id="b5-50"><rect class="yb" x="401" y="7001" width="220" height="37"/><text class="t" x="406" y="7016">3、概括：植物的生长需要一定的环境，当环<tspan x="406" dy="13.6">境改变后它们会努力的适应环境的变化。</tspan></text></g>
<g id="b5-51"><rect class="yb" x="600" y="7141" width="220" height="38"/><text class="t" x="605" y="7156">四、观察更多的植物适应环境的图片(书8面)<tspan x="605" dy="13.6">:</tspan></text></g>
<g id="b5-52"><rect class="yb" x="373" y="7061" width="207" height="23"/><text class="t" x="378" y="7076">1、比较香蕉、松树、仙人掌的叶的不同。</text></g>
<g id="b5-53"><rect class="yb" x="359" y="7108" width="221" height="37"/><text class="t" x="364" y="7123">2、香蕉、松树、仙人掌分别生长在什么地方<tspan x="364" dy="13.6">?</tspan></text></g>
<g id="b5-54"><rect class="yb" x="359" y="7168" width="221" height="37"/><text class="t" x="364" y="7183">3、这三种植物的叶同它们的生活环境有什么<tspan x="364" dy="13.6">关系?</tspan></text></g>
<g id="b5-55"><rect class="yb" x="359" y="7229" width="221" height="35"/><text class="t" x="364" y="7244">4、说说平时还看见有关植物适应环境的例子<tspan x="364" dy="13.6">。</tspan></text></g>
</g>
</svg>
